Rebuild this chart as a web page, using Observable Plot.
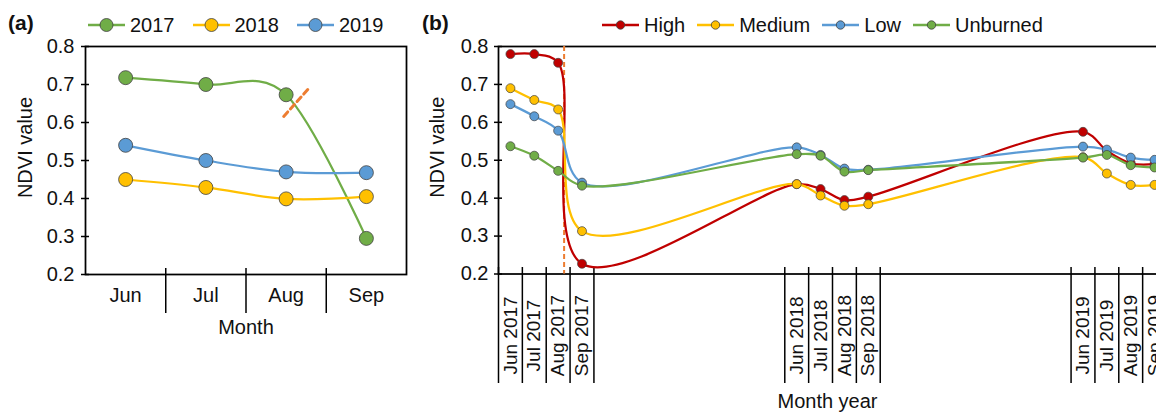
<!DOCTYPE html>
<html><head><meta charset="utf-8">
<script src="https://cdn.jsdelivr.net/npm/d3@7"></script>
<script src="https://cdn.jsdelivr.net/npm/@observablehq/plot@0.6"></script>
<style>
html,body{margin:0;padding:0;background:#fff;overflow:hidden;}
body{width:1156px;height:412px;font-family:"Liberation Sans",Arial,sans-serif;color:#111;}
#wrap{position:relative;width:1170px;height:412px;}
.tag{position:absolute;top:11px;font-size:21px;font-weight:bold;line-height:24px;}
.legend{position:absolute;top:13px;display:flex;align-items:center;font-size:20px;line-height:24px;white-space:nowrap;}
.item{display:flex;align-items:center;}
.item svg{display:block;}
.item span{margin-left:5px;}
.plotA,.plotB{position:absolute;top:36px;}
.plotA{left:0;}
.plotB{left:420px;}
</style></head>
<body>
<div id="wrap">
  <div class="tag" style="left:8px">(a)</div>
  <div class="tag" style="left:422px">(b)</div>
  <div class="legend" id="legA" style="left:88px"></div>
  <div class="legend" id="legB" style="left:602px"></div>
  <div class="plotA" id="plotA"></div>
  <div class="plotB" id="plotB"></div>
</div>
<script>
// ---------- Data: panel (a) ----------
const monthsA = ["Jun", "Jul", "Aug", "Sep"];
const yearsA = ["2017", "2018", "2019"];
const ndvi2017 = [0.718, 0.700, 0.673, 0.295];
const ndvi2018 = [0.450, 0.429, 0.399, 0.405];
const ndvi2019 = [0.540, 0.500, 0.470, 0.468];
const colorsA = ["#70AD47", "#FFC000", "#5B9BD5"];
const fireMarkA = [[1.97, 0.616], [2.28, 0.689]]; // dashed fire marker (month index, NDVI)

// ---------- Data: panel (b) ----------
const monthLabelsB = ["Jun 2017", "Jul 2017", "Aug 2017", "Sep 2017",
  "Jun 2018", "Jul 2018", "Aug 2018", "Sep 2018",
  "Jun 2019", "Jul 2019", "Aug 2019", "Sep 2019"];
const monthIndexB = [0, 1, 2, 3, 12, 13, 14, 15, 24, 25, 26, 27]; // months since Jun 2017
const monthCountB = 28;
const severityB = ["High", "Medium", "Low", "Unburned"];
const highB     = [0.780, 0.780, 0.757, 0.227, 0.437, 0.424, 0.395, 0.404, 0.575, 0.525, 0.492, 0.490];
const mediumB   = [0.690, 0.659, 0.634, 0.313, 0.437, 0.407, 0.380, 0.384, 0.508, 0.465, 0.435, 0.435];
const lowB      = [0.648, 0.616, 0.578, 0.441, 0.534, 0.514, 0.478, 0.475, 0.536, 0.528, 0.507, 0.501];
const unburnedB = [0.537, 0.512, 0.472, 0.433, 0.516, 0.512, 0.470, 0.474, 0.507, 0.514, 0.487, 0.481];
const colorsB = ["#C00000", "#FFC000", "#5B9BD5", "#70AD47"];
const fireIndexB = 2.25; // fire date, in months since Jun 2017

const yTicks = [0.2, 0.3, 0.4, 0.5, 0.6, 0.7, 0.8];
const fireColor = "#ED7D31";
const font = "Liberation Sans, Arial, sans-serif";

// ---------- Legends ----------
function legend(el, names, colors, r) {
  const host = document.getElementById(el);
  names.forEach((n, i) => {
    const it = document.createElement("div");
    it.className = "item";
    it.style.marginRight = (el === "legA" ? 18 : 12) + "px";
    it.innerHTML = `<svg width="37" height="24"><line x1="0" x2="37" y1="12" y2="12" stroke="${colors[i]}" stroke-width="2.5"/><circle cx="18.5" cy="12" r="${r}" fill="${colors[i]}" stroke="#404040" stroke-width="0.8"/></svg><span>${n}</span>`;
    host.appendChild(it);
  });
}
legend("legA", yearsA, colorsA, 6.5);
legend("legB", severityB, colorsB, 4.2);

// ---------- Panel (a) ----------
const seriesA = [ndvi2017, ndvi2018, ndvi2019];
const rowsA = seriesA.flatMap((vals, s) => vals.map((v, i) => ({series: yearsA[s], x: i, y: v})));
const sepA = d3.range(monthsA.length - 1).map(i => i + 0.5);
const marksA = [
  Plot.frame({stroke: "#000", strokeWidth: 1.75}),
  Plot.axisY({ticks: yTicks, tickSize: 8, dx: 4, tickFormat: () => "", stroke: "#000", strokeWidth: 1.5, label: null}),
  Plot.axisY({ticks: yTicks, tickSize: 0, tickPadding: 11, tickFormat: d3.format(".1f"), fontSize: 20, fill: "#111", label: null}),
  Plot.axisX({ticks: sepA, tickSize: 45, dy: -6, tickFormat: () => "", stroke: "#000", strokeWidth: 1.5, label: null}),
  Plot.axisX({ticks: d3.range(monthsA.length), tickSize: 0, tickPadding: 13, tickFormat: i => monthsA[i], fontSize: 20, fill: "#111", label: null}),
  Plot.text(["Month"], {frameAnchor: "bottom", lineAnchor: "middle", textAnchor: "middle", dy: 52.6, fontSize: 20, fill: "#111"}),
  Plot.text(["NDVI value"], {frameAnchor: "left", lineAnchor: "middle", textAnchor: "middle", rotate: -90, dx: -60, dy: -13, fontSize: 20, fill: "#111"})
];
yearsA.forEach(name => {
  const d = rowsA.filter(r => r.series === name);
  marksA.push(Plot.line(d, {x: "x", y: "y", stroke: "series", curve: "cardinal", tension: 0, strokeWidth: 2.25}));
  marksA.push(Plot.dot(d, {x: "x", y: "y", fill: "series", r: 7, stroke: "#404040", strokeWidth: 0.8}));
});
marksA.push(Plot.line(fireMarkA, {x: d => d[0], y: d => d[1], stroke: fireColor, strokeWidth: 3, strokeDasharray: "6,4"}));

const plotA = Plot.plot({
  width: 420, height: 320, marginTop: 10, marginBottom: 82, marginLeft: 85, marginRight: 14,
  style: {fontFamily: font, fontSize: "20px", background: "transparent", overflow: "visible"},
  x: {domain: [-0.5, monthsA.length - 0.5]},
  y: {domain: [0.2, 0.8]},
  color: {domain: yearsA, range: colorsA},
  marks: marksA
});
document.getElementById("plotA").appendChild(plotA);

// ---------- Panel (b) ----------
const seriesB = [highB, mediumB, lowB, unburnedB];
const rowsB = seriesB.flatMap((vals, s) => vals.map((v, i) => ({series: severityB[s], x: monthIndexB[i], y: v})));
const sepB = Array.from(new Set(monthIndexB.flatMap(i => [i - 0.5, i + 0.5])));
const labelRowsB = monthLabelsB.map((l, i) => ({x: monthIndexB[i], label: l}));
const marksB = [
  Plot.frame({stroke: "#000", strokeWidth: 1.75}),
  Plot.axisY({ticks: yTicks, tickSize: 8, dx: 4, tickFormat: () => "", stroke: "#000", strokeWidth: 1.5, label: null}),
  Plot.axisY({ticks: yTicks, tickSize: 0, tickPadding: 10, tickFormat: d3.format(".1f"), fontSize: 20, fill: "#111", label: null}),
  Plot.axisX({ticks: sepB, tickSize: 116, dy: -6.5, tickFormat: () => "", stroke: "#000", strokeWidth: 1.5, label: null}),
  Plot.text(labelRowsB, {x: "x", text: "label", frameAnchor: "bottom", lineAnchor: "middle", textAnchor: "middle", rotate: -90, dy: 61.5, fontSize: 19, fill: "#111"}),
  Plot.text(["Month year"], {frameAnchor: "bottom", lineAnchor: "middle", textAnchor: "middle", dx: -5, dy: 128, fontSize: 20, fill: "#111"}),
  Plot.text(["NDVI value"], {frameAnchor: "left", lineAnchor: "middle", textAnchor: "middle", rotate: -90, dx: -60.5, dy: -13, fontSize: 20, fill: "#111"}),
  Plot.ruleX([fireIndexB], {stroke: fireColor, strokeWidth: 2, strokeDasharray: "5,3"})
];
severityB.forEach(name => {
  const d = rowsB.filter(r => r.series === name);
  marksB.push(Plot.line(d, {x: "x", y: "y", stroke: "series", curve: "catmull-rom", strokeWidth: 2.25}));
  marksB.push(Plot.dot(d, {x: "x", y: "y", fill: "series", r: 4.5, stroke: "#404040", strokeWidth: 0.7}));
});

const plotB = Plot.plot({
  width: 750, height: 376, marginTop: 10, marginBottom: 138.5, marginLeft: 78, marginRight: 4,
  style: {fontFamily: font, fontSize: "20px", background: "transparent", overflow: "visible"},
  x: {domain: [-0.5, monthCountB - 0.5]},
  y: {domain: [0.2, 0.8]},
  color: {domain: severityB, range: colorsB},
  marks: marksB
});
document.getElementById("plotB").appendChild(plotB);
</script>
</body></html>
